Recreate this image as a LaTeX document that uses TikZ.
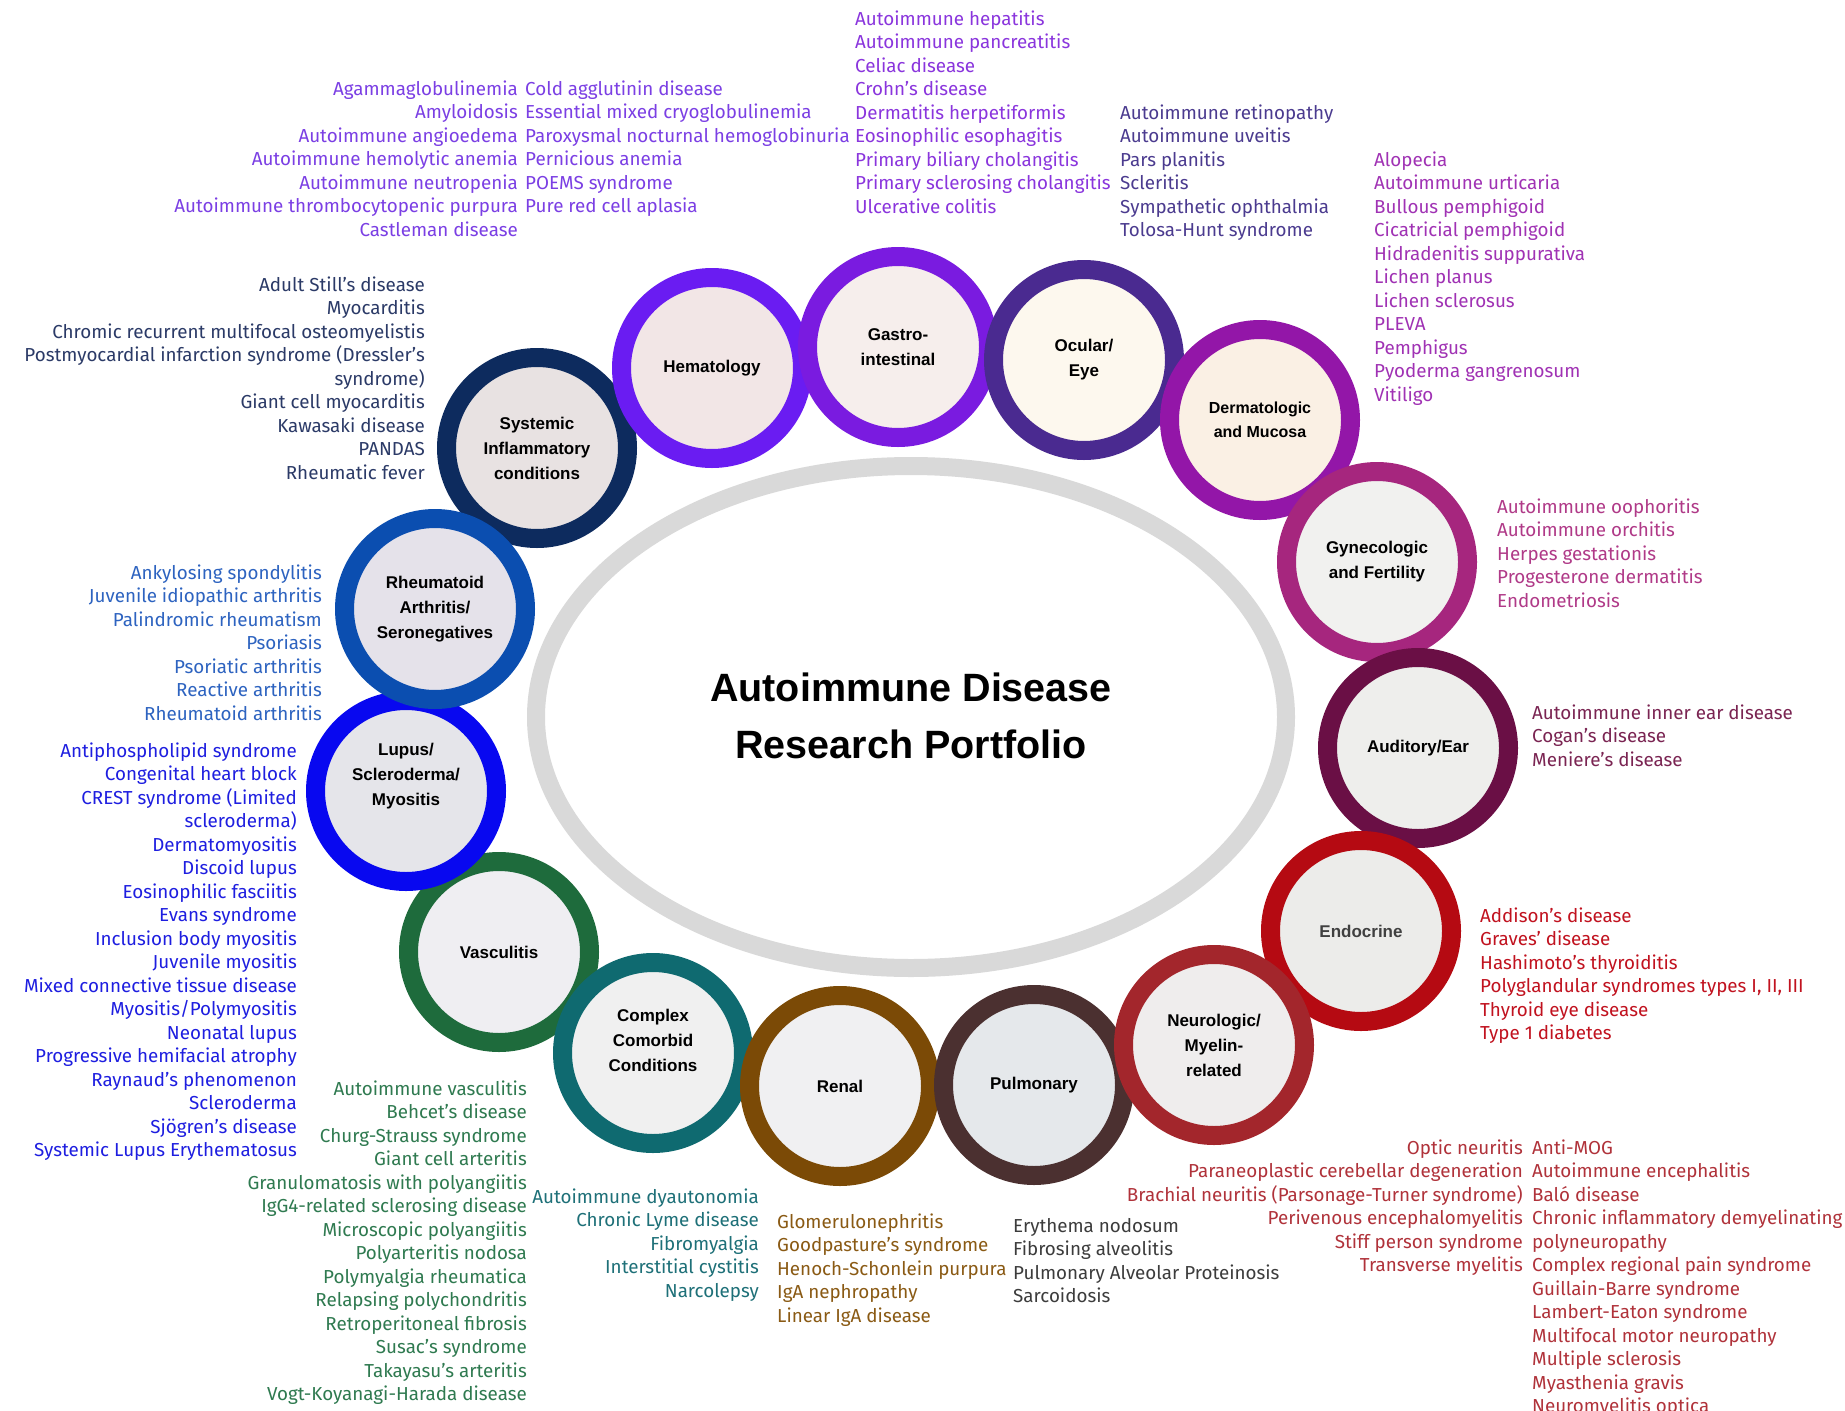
\documentclass[tikz,border=0pt]{standalone}
\usepackage{fontspec}
\setmainfont{Liberation Sans}
\newfontfamily\listfont{Fira Sans}
\usetikzlibrary{positioning}

% ring colours, fills and list colours
\definecolor{grayring}{HTML}{D9D9D9}
\definecolor{sysR}{HTML}{0D2B5E}\definecolor{sysF}{HTML}{E8E2E2}\definecolor{sysT}{HTML}{2B3A67}
\definecolor{hemR}{HTML}{6A1CF2}\definecolor{hemF}{HTML}{F2E6E6}\definecolor{hemT}{HTML}{7B3FE4}
\definecolor{gasR}{HTML}{7A1BE0}\definecolor{gasF}{HTML}{F6EEEC}\definecolor{gasT}{HTML}{8A35DD}
\definecolor{ocuR}{HTML}{4A2A90}\definecolor{ocuF}{HTML}{FDF8EE}\definecolor{ocuT}{HTML}{4B3B8F}
\definecolor{derR}{HTML}{9316A8}\definecolor{derF}{HTML}{FAF0E4}\definecolor{derT}{HTML}{A032B4}
\definecolor{gynR}{HTML}{A6267E}\definecolor{gynF}{HTML}{F1F1EF}\definecolor{gynT}{HTML}{B03A88}
\definecolor{audR}{HTML}{6A0F45}\definecolor{audF}{HTML}{EEEEEC}\definecolor{audT}{HTML}{7A2452}
\definecolor{endR}{HTML}{B50A12}\definecolor{endF}{HTML}{ECECEA}\definecolor{endT}{HTML}{C1121F}
\definecolor{neuR}{HTML}{A3262C}\definecolor{neuF}{HTML}{EFEDED}\definecolor{neuT}{HTML}{B0323A}
\definecolor{pulR}{HTML}{4B3030}\definecolor{pulF}{HTML}{E5E8EB}\definecolor{pulT}{HTML}{3C3C3C}
\definecolor{renR}{HTML}{7B4A06}\definecolor{renF}{HTML}{F0F0F2}\definecolor{renT}{HTML}{8A5A14}
\definecolor{comR}{HTML}{0F6A70}\definecolor{comF}{HTML}{F0F0F0}\definecolor{comT}{HTML}{1E7078}
\definecolor{vasR}{HTML}{1E6B3C}\definecolor{vasF}{HTML}{EFEEF2}\definecolor{vasT}{HTML}{2F7A50}
\definecolor{lupR}{HTML}{0808F0}\definecolor{lupF}{HTML}{E5E5EA}\definecolor{lupT}{HTML}{1E1EE0}
\definecolor{rheR}{HTML}{0B4EB0}\definecolor{rheF}{HTML}{E5E2EA}\definecolor{rheT}{HTML}{2D63C0}

\tikzset{
  ring/.style={circle,draw=#1,line width=19pt,minimum size=181pt,inner sep=0pt,
    font=\bfseries\fontsize{17}{25}\selectfont,align=center,text=black},
  cattext/.style={font=\bfseries\fontsize{17}{25}\selectfont,align=center,text=black},
  item/.style={font=\listfont\fontsize{18.8}{22}\selectfont,inner sep=0pt}
}

\begin{document}
\begin{tikzpicture}[x=1pt,y=-1pt]
\clip (0,0) rectangle (1845,1411);
\fill[white] (0,0) rectangle (1845,1411);

% centre
\draw[grayring,line width=18pt] (911,717) ellipse [x radius=375,y radius=251];
\node[font=\bfseries\fontsize{39.5}{57}\selectfont,align=center] (title) at (911,716)
  {Autoimmune Disease\\Research Portfolio};

% circles
\node[ring=vasR,fill=vasF] (vasc) at (499,952) {Vasculitis};
\node[ring=comR,fill=comF] (comp) at (653,1053) {};
\node[cattext] (compT) at (653,1040) {Complex\\Comorbid\\Conditions};
\node[ring=renR,fill=renF] (renal) at (840,1086) {Renal};
\node[ring=pulR,fill=pulF] (pulm) at (1034,1085) {Pulmonary};
\node[ring=sysR,fill=sysF] (syst) at (537,448) {Systemic\\Inflammatory\\conditions};
\node[ring=hemR,fill=hemF] (hema) at (712,368) {Hematology};
\node[ring=gasR,fill=gasF] (gast) at (898,347) {Gastro-\\intestinal};
\node[ring=ocuR,fill=ocuF] (ocul) at (1084,360) {Ocular/\\Eye};
\node[ring=derR,fill=derF,font=\bfseries\fontsize{16}{23.5}\selectfont] (derm) at (1260,420) {Dermatologic\\and Mucosa};
\node[ring=gynR,fill=gynF] (gyne) at (1377,562) {Gynecologic\\and Fertility};
\node[ring=audR,fill=audF] (audi) at (1418,748) {Auditory/Ear};
\node[ring=endR,fill=endF,text=black!75] (endo) at (1361,931) {Endocrine};
\node[ring=neuR,fill=neuF] (neur) at (1214,1045) {Neurologic/\\Myelin-\\related};
\node[ring=lupR,fill=lupF] (lupu) at (406,791) {};
\node[cattext] (lupuT) at (406,776) {Lupus/\\Scleroderma/\\Myositis};
\node[ring=rheR,fill=rheF] (rheu) at (435,609) {Rheumatoid\\Arthritis/\\Seronegatives};

% lists
\foreach \t [count=\i] in {Agammaglobulinemia, Amyloidosis, Autoimmune angioedema,
  Autoimmune hemolytic anemia, Autoimmune neutropenia,
  Autoimmune thrombocytopenic purpura, Castleman disease}
  \node[item,text=hemT,anchor=mid east] (hemL\i) at (518,{69+23.5*\i}) {\t};
\foreach \t [count=\i] in {Cold agglutinin disease, Essential mixed cryoglobulinemia,
  Paroxysmal nocturnal hemoglobinuria, Pernicious anemia, POEMS syndrome,
  Pure red cell aplasia}
  \node[item,text=hemT,anchor=mid west] (hemR\i) at (525,{69+23.5*\i}) {\t};
\foreach \t [count=\i] in {Autoimmune hepatitis, Autoimmune pancreatitis, Celiac disease,
  Crohn’s disease, Dermatitis herpetiformis, Eosinophilic esophagitis,
  Primary biliary cholangitis, Primary sclerosing cholangitis, Ulcerative colitis}
  \node[item,text=gasT,anchor=mid west] (gasL\i) at (855,{-1+23.5*\i}) {\t};
\foreach \t [count=\i] in {Autoimmune retinopathy, Autoimmune uveitis, Pars planitis,
  Scleritis, Sympathetic ophthalmia, Tolosa-Hunt syndrome}
  \node[item,text=ocuT,anchor=mid west] (ocuL\i) at (1120,{93+23.5*\i}) {\t};
\foreach \t [count=\i] in {Alopecia, Autoimmune urticaria, Bullous pemphigoid,
  Cicatricial pemphigoid, Hidradenitis suppurativa, Lichen planus, Lichen sclerosus,
  PLEVA, Pemphigus, Pyoderma gangrenosum, Vitiligo}
  \node[item,text=derT,anchor=mid west] (derL\i) at (1374,{140+23.5*\i}) {\t};
\foreach \t [count=\i] in {Autoimmune oophoritis, Autoimmune orchitis, Herpes gestationis,
  Progesterone dermatitis, Endometriosis}
  \node[item,text=gynT,anchor=mid west] (gynL\i) at (1497,{487+23.5*\i}) {\t};
\foreach \t [count=\i] in {Autoimmune inner ear disease, Cogan’s disease, Meniere’s disease}
  \node[item,text=audT,anchor=mid west] (audL\i) at (1532,{693+23.5*\i}) {\t};
\foreach \t [count=\i] in {Addison’s disease, Graves’ disease, Hashimoto’s thyroiditis,
  {Polyglandular syndromes types I, II, III}, Thyroid eye disease, Type 1 diabetes}
  \node[item,text=endT,anchor=mid west] (endL\i) at (1480,{896+23.5*\i}) {\t};
\foreach \t [count=\i] in {Optic neuritis, Paraneoplastic cerebellar degeneration,
  Brachial neuritis (Parsonage-Turner syndrome), Perivenous encephalomyelitis,
  Stiff person syndrome, Transverse myelitis}
  \node[item,text=neuT,anchor=mid east] (neuL\i) at (1523,{1128+23.5*\i}) {\t};
\foreach \t [count=\i] in {Anti-MOG, Autoimmune encephalitis, Baló disease,
  Chronic inflammatory demyelinating, polyneuropathy, Complex regional pain syndrome,
  Guillain-Barre syndrome, Lambert-Eaton syndrome, Multifocal motor neuropathy,
  Multiple sclerosis, Myasthenia gravis, Neuromyelitis optica}
  \node[item,text=neuT,anchor=mid west] (neuR\i) at (1532,{1128+23.5*\i}) {\t};
\foreach \t [count=\i] in {Erythema nodosum, Fibrosing alveolitis,
  Pulmonary Alveolar Proteinosis, Sarcoidosis}
  \node[item,text=pulT,anchor=mid west] (pulL\i) at (1013,{1206+23.5*\i}) {\t};
\foreach \t [count=\i] in {Glomerulonephritis, Goodpasture’s syndrome,
  Henoch-Schonlein purpura, IgA nephropathy, Linear IgA disease}
  \node[item,text=renT,anchor=mid west] (renL\i) at (777,{1202+23.5*\i}) {\t};
\foreach \t [count=\i] in {Autoimmune dyautonomia, Chronic Lyme disease, Fibromyalgia,
  Interstitial cystitis, Narcolepsy}
  \node[item,text=comT,anchor=mid east] (comL\i) at (759,{1177+23.5*\i}) {\t};
\foreach \t [count=\i] in {Autoimmune vasculitis, Behcet’s disease, Churg-Strauss syndrome,
  Giant cell arteritis, Granulomatosis with polyangiitis, IgG4-related sclerosing disease,
  Microscopic polyangiitis, Polyarteritis nodosa, Polymyalgia rheumatica,
  Relapsing polychondritis, Retroperitoneal fibrosis, Susac’s syndrome,
  Takayasu’s arteritis, Vogt-Koyanagi-Harada disease}
  \node[item,text=vasT,anchor=mid east] (vasL\i) at (527,{1069+23.5*\i}) {\t};
\foreach \t [count=\i] in {Antiphospholipid syndrome, Congenital heart block,
  CREST syndrome (Limited, scleroderma), Dermatomyositis, Discoid lupus,
  Eosinophilic fasciitis, Evans syndrome, Inclusion body myositis, Juvenile myositis,
  Mixed connective tissue disease, Myositis/Polymyositis, Neonatal lupus,
  Progressive hemifacial atrophy, Raynaud’s phenomenon, Scleroderma,
  Sjögren’s disease, Systemic Lupus Erythematosus}
  \node[item,text=lupT,anchor=mid east] (lupL\i) at (297,{731+23.5*\i}) {\t};
\foreach \t [count=\i] in {Ankylosing spondylitis, Juvenile idiopathic arthritis,
  Palindromic rheumatism, Psoriasis, Psoriatic arthritis, Reactive arthritis,
  Rheumatoid arthritis}
  \node[item,text=rheT,anchor=mid east] (rheL\i) at (322,{553+23.5*\i}) {\t};
\foreach \t [count=\i] in {Adult Still’s disease, Myocarditis,
  Chromic recurrent multifocal osteomyelistis,
  Postmyocardial infarction syndrome (Dressler’s, syndrome), Giant cell myocarditis,
  Kawasaki disease, PANDAS, Rheumatic fever}
  \node[item,text=sysT,anchor=mid east] (sysL\i) at (425,{265+23.5*\i}) {\t};
\end{tikzpicture}
\end{document}
